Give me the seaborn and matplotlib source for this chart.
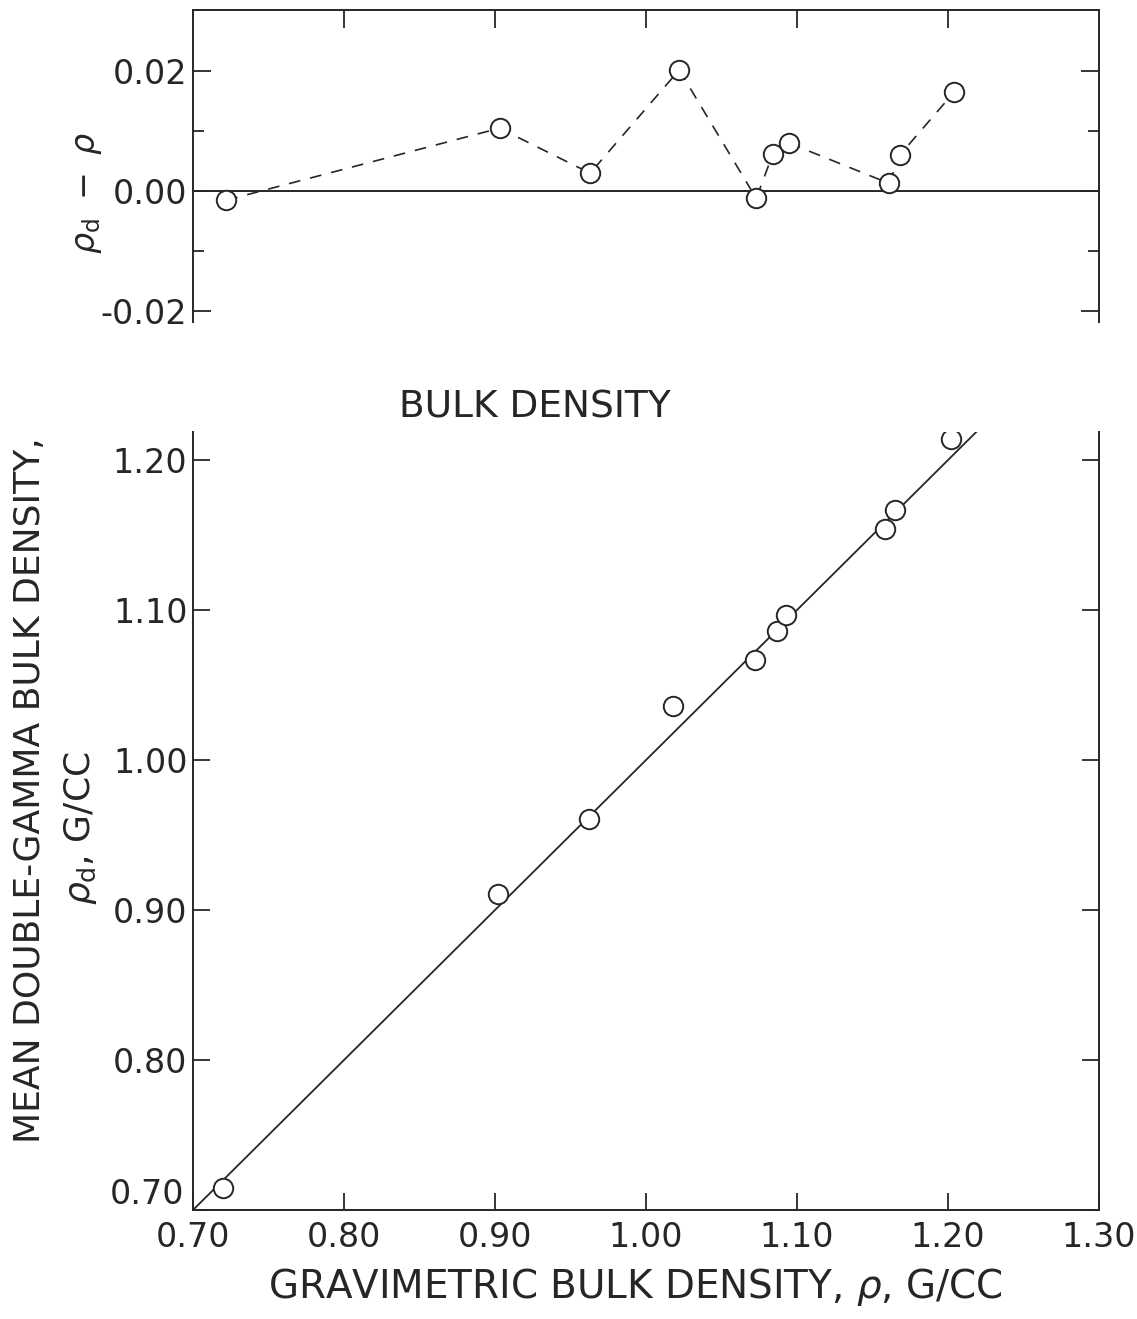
import numpy as np
import pandas as pd
import matplotlib
matplotlib.use("Agg")
import matplotlib.pyplot as plt
import matplotlib.transforms as mtransforms
import seaborn as sns
from matplotlib.ticker import FixedLocator

# ---------------- data ----------------
# bottom panel: gravimetric vs. double-gamma bulk density (g/cc)
grav_density = [0.720, 0.902, 0.962, 1.018, 1.072, 1.087, 1.093, 1.158, 1.165, 1.202]
dgamma_density = [0.715, 0.911, 0.961, 1.036, 1.067, 1.086, 1.097, 1.154, 1.167, 1.214]

# top panel: difference rho_d - rho
diff_x = [0.722, 0.903, 0.963, 1.022, 1.073, 1.084, 1.095, 1.161, 1.168, 1.204]
diff_y = [-0.0015, 0.0105, 0.0030, 0.0202, -0.0012, 0.0062, 0.0080, 0.0013, 0.0060, 0.0165]

# 1:1 reference line end points
one_to_one = [0.70, 1.222]

x_ticks = [0.70, 0.80, 0.90, 1.00, 1.10, 1.20, 1.30]
x_tick_labels = ["0.70", "0.80", "0.90", "1.00", "1.10", "1.20", "1.30"]
y_ticks_bottom = [0.70, 0.80, 0.90, 1.00, 1.10, 1.20]
y_tick_labels_bottom = ["0.70", "0.80", "0.90", "1.00", "1.10", "1.20"]
y_ticks_top = [-0.02, 0.00, 0.02]
y_tick_labels_top = ["-0.02", "0.00", "0.02"]

# ---------------- style ----------------
sns.set_style("ticks")
plt.rcParams["font.family"] = ["DejaVu Sans"]
plt.rcParams["mathtext.fontset"] = "dejavusans"
INK = "#262626"
FS = 24

W, H = 1137, 1319
fig = plt.figure(figsize=(W / 100, H / 100), dpi=100)
fig.patch.set_facecolor("white")

left = 193 / W
width = (1099 - 193) / W
ax_top = fig.add_axes([left, 1 - 322 / H, width, (322 - 10) / H])
ax_bot = fig.add_axes([left, 1 - 1210 / H, width, (1210 - 432) / H])

MS = 14
mk = dict(marker="o", markersize=MS, markerfacecolor="white",
          markeredgecolor=INK, markeredgewidth=1.4)

# ---------------- top panel ----------------
df_top = pd.DataFrame({"x": diff_x, "y": diff_y})
ax_top.axhline(0, color=INK, lw=1.4, zorder=1)
sns.lineplot(data=df_top, x="x", y="y", ax=ax_top, estimator=None, sort=False,
             color=INK, lw=1.2, linestyle=(0, (7, 6)), zorder=3, **mk)
ax_top.set_xlim(0.70, 1.30)
ax_top.set_ylim(-0.0218, 0.0302)
ax_top.yaxis.set_major_locator(FixedLocator(y_ticks_top))
ax_top.set_yticklabels(y_tick_labels_top)
ax_top.yaxis.set_minor_locator(FixedLocator([-0.01, 0.01]))
ax_top.xaxis.set_major_locator(FixedLocator(x_ticks[1:-1]))
ax_top.set_xlabel("")
ax_top.set_ylabel("")
for s in ["left", "right", "top"]:
    ax_top.spines[s].set_color(INK)
    ax_top.spines[s].set_linewidth(1.4)
ax_top.spines["bottom"].set_visible(False)
ax_top.tick_params(axis="y", which="major", direction="in", length=13, width=1.3,
                   left=True, right=True, labelsize=FS, labelcolor=INK, color=INK, pad=4)
ax_top.tick_params(axis="y", which="minor", direction="in", length=8, width=1.3,
                   left=True, right=True, color=INK)
ax_top.tick_params(axis="x", which="major", direction="in", length=13, width=1.3,
                   top=True, bottom=False, labeltop=False, labelbottom=False, color=INK)

fig.text(88 / W, 1 - 193 / H, r"$\rho_{\mathrm{d}}\ -\ \rho$", rotation=90,
         ha="center", va="center", fontsize=FS, color=INK)

# ---------------- bottom panel ----------------
df_bot = pd.DataFrame({"x": grav_density, "y": dgamma_density})
df_line = pd.DataFrame({"x": one_to_one, "y": one_to_one})
sns.lineplot(data=df_line, x="x", y="y", ax=ax_bot, estimator=None, sort=False,
             color=INK, lw=1.3, zorder=1)
sns.scatterplot(data=df_bot, x="x", y="y", ax=ax_bot, s=MS ** 2, marker="o",
                facecolor="white", edgecolor=INK, linewidth=1.4, zorder=3)
ax_bot.set_xlim(0.70, 1.30)
ax_bot.set_ylim(0.70, 1.2187)
ax_bot.xaxis.set_major_locator(FixedLocator(x_ticks))
ax_bot.set_xticklabels(x_tick_labels)
ax_bot.yaxis.set_major_locator(FixedLocator(y_ticks_bottom))
ax_bot.set_yticklabels(y_tick_labels_bottom)
ax_bot.set_xlabel("")
ax_bot.set_ylabel("")
for s in ["left", "right", "bottom"]:
    ax_bot.spines[s].set_color(INK)
    ax_bot.spines[s].set_linewidth(1.4)
ax_bot.spines["top"].set_visible(False)
ax_bot.tick_params(axis="both", which="major", direction="in", length=12, width=1.3,
                   left=True, right=True, bottom=True, top=False,
                   labelsize=FS, labelcolor=INK, color=INK)
ax_bot.tick_params(axis="x", pad=8)
ax_bot.tick_params(axis="y", pad=4)

fig.text(535 / W, 1 - 417 / H, "BULK DENSITY", ha="center", va="baseline",
         fontsize=27, color=INK)
fig.text(635 / W, 1 - 1298 / H, r"GRAVIMETRIC BULK DENSITY, $\rho$, G/CC",
         ha="center", va="baseline", fontsize=28, color=INK)
fig.text(30 / W, 1 - 790 / H, "MEAN DOUBLE-GAMMA BULK DENSITY,", rotation=90,
         ha="center", va="center", fontsize=26, color=INK)
fig.text(80 / W, 1 - 828 / H, r"$\rho_{\mathrm{d}}$, G/CC", rotation=90,
         ha="center", va="center", fontsize=26, color=INK)

# the lowest y tick label sits slightly above its tick, clear of the x labels
fig.canvas.draw()
lab = ax_bot.yaxis.get_major_ticks()[0].label1
lab.set_transform(lab.get_transform() +
                  mtransforms.ScaledTranslation(-2 / 72, 14 / 72, fig.dpi_scale_trans))

fig.savefig("out.png", dpi=100, facecolor="white")
